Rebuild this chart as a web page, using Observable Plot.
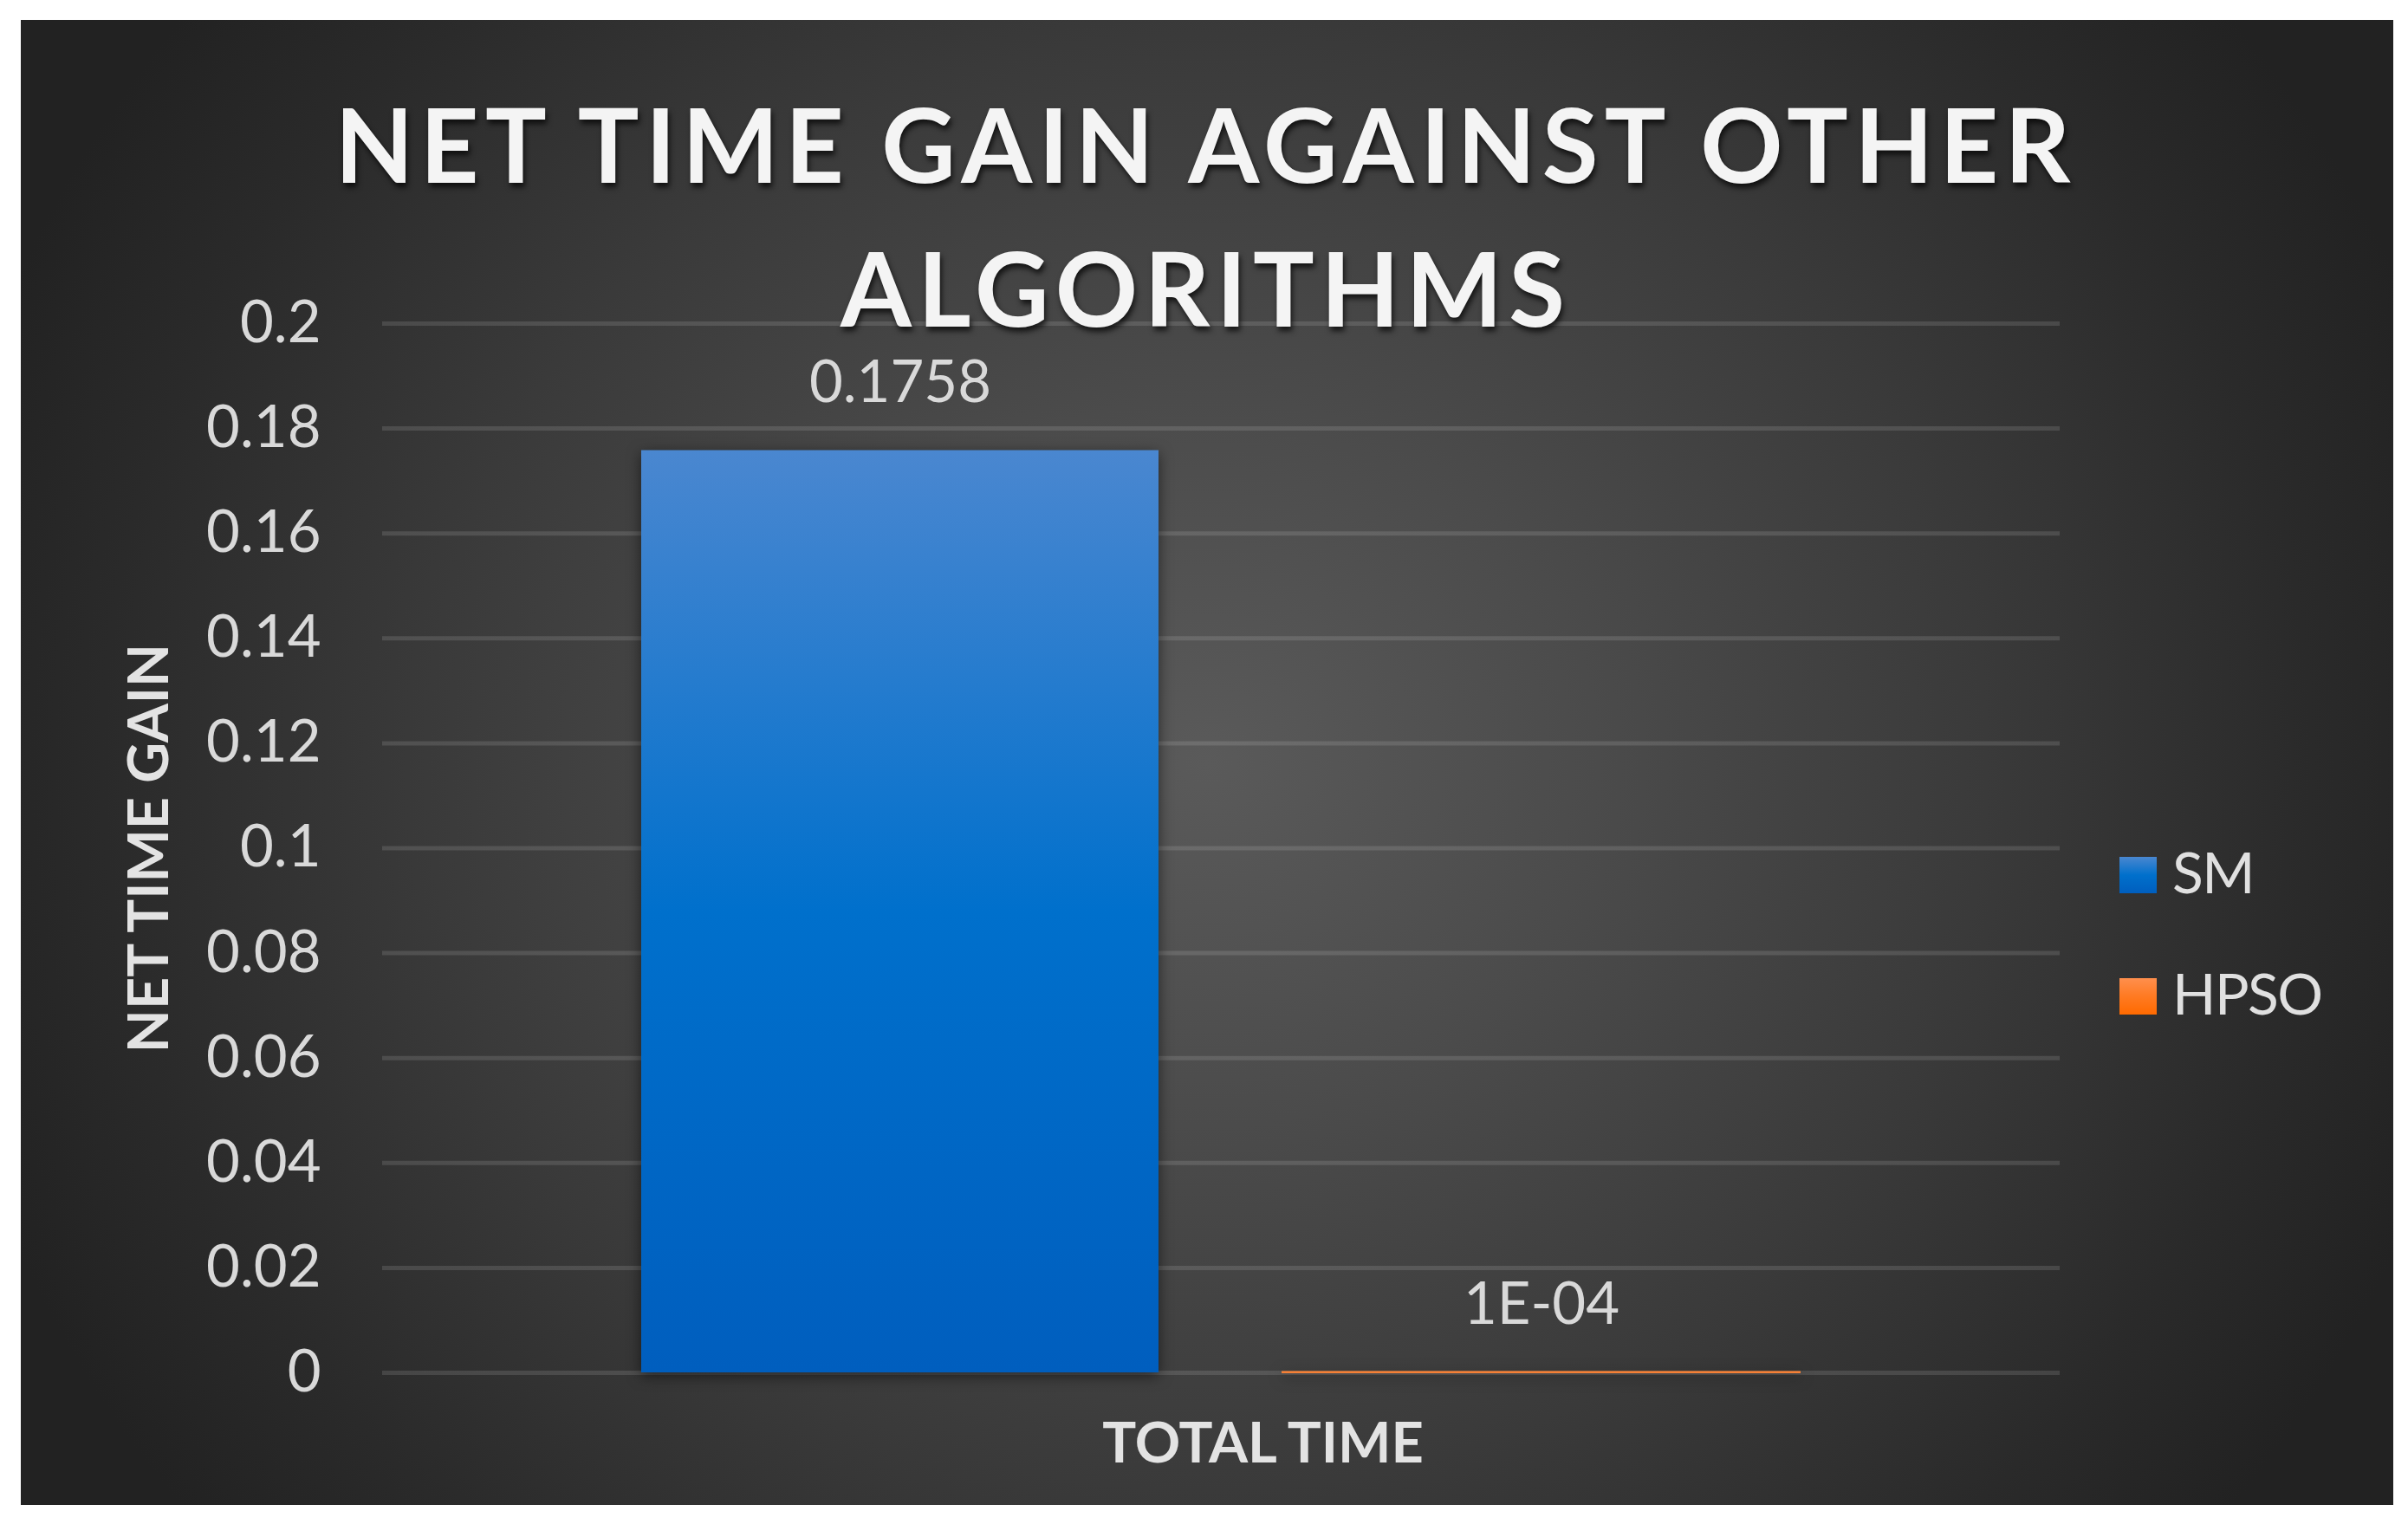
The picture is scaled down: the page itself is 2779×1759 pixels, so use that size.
<!DOCTYPE html>
<html>
<head>
<meta charset="utf-8">
<script src="https://cdn.jsdelivr.net/npm/d3@7"></script>
<script src="https://cdn.jsdelivr.net/npm/@observablehq/plot@0.6"></script>
<style>
  html, body { margin: 0; padding: 0; background: #ffffff; }
  #wrap { position: relative; width: 2779px; height: 1759px; overflow: hidden; background: #ffffff; font-family: Lato, "Open Sans", sans-serif; }
  #panel { position: absolute; left: 24px; top: 23px; width: 2738px; height: 1714px;
    background: radial-gradient(ellipse 1500px 1400px at 1369px 857px, #5a5a5a 0%, #4b4b4b 30%, #3a3a3a 60%, #2a2a2a 85%, #222222 100%); }
  #chart { position: absolute; left: 0; top: 0; }
  .title-line { position: absolute; left: 0; width: 2776px; text-align: center; font-family: Lato, sans-serif; font-weight: 700;
    font-size: 118px; line-height: 166px; color: #f4f4f4; white-space: nowrap;
    text-shadow: 2px 5px 6px rgba(0,0,0,0.7); }
  .legend-item { position: absolute; left: 2446px; height: 67px; }
  .legend-swatch { position: absolute; left: 0; width: 43px; height: 42px; }
  .legend-text { position: absolute; left: 61px; top: 0; font-family: Lato, sans-serif; font-size: 66px; line-height: 67px; letter-spacing: -1.5px; color: #e0e0e0; white-space: nowrap; }
  g[aria-label="bar"] rect { filter: drop-shadow(0px 4px 8px rgba(0,0,0,0.55)); }
</style>
</head>
<body>
<div id="wrap">
  <div id="panel"></div>
  <svg width="0" height="0" style="position:absolute">
    <defs>
      <linearGradient id="grad0" x1="0" y1="0" x2="0" y2="1">
        <stop offset="0" stop-color="#4a87d0"/>
        <stop offset="0.5" stop-color="#0070cc"/>
        <stop offset="1" stop-color="#005ebe"/>
      </linearGradient>
      <linearGradient id="grad1" x1="0" y1="0" x2="0" y2="1">
        <stop offset="0" stop-color="#ff8f4d"/>
        <stop offset="0.5" stop-color="#ff7a22"/>
        <stop offset="1" stop-color="#ff6a00"/>
      </linearGradient>
    </defs>
  </svg>
  <div id="chart"></div>
  <div id="title"></div>
  <div id="legend"></div>
</div>
<script>
// ---- data ----
const titleLines = ["NET TIME GAIN AGAINST OTHER", "ALGORITHMS"];
const categoryLabel = "TOTAL TIME";
const yAxisLabel = "NET TIME GAIN";
const seriesNames = ["SM", "HPSO"];
const seriesValues = [0.1758, 0.0001];
const yTicks = [0, 0.02, 0.04, 0.06, 0.08, 0.1, 0.12, 0.14, 0.16, 0.18, 0.2];

const data = seriesNames.map((s, i) => ({series: s, value: seriesValues[i], category: categoryLabel}));

const gradIds = ["grad0", "grad1"];
const swatchCss = [
  "linear-gradient(#4a87d0, #0070cc 50%, #005ebe)",
  "linear-gradient(#ff8f4d, #ff7a22 50%, #ff6a00)"
];
const thinStroke = ["none", "#f58036"];

function excelGeneral(v) {
  if (Math.abs(v) < 0.001 && v !== 0) {
    const [m, e] = v.toExponential(0).split("e");
    return m + "E" + (e[0] === "-" ? "-" : "+") + String(Math.abs(+e)).padStart(2, "0");
  }
  return String(v);
}

const W = 2779, H = 1759;
const plot = Plot.plot({
  width: W,
  height: H,
  marginLeft: 441,
  marginRight: 402,
  marginTop: 373,
  marginBottom: 175,
  style: {background: "transparent", color: "#d9d9d9", fontFamily: "Lato, 'Open Sans', sans-serif", overflow: "visible"},
  x: {type: "band", domain: seriesNames, paddingInner: 0.193, paddingOuter: 0.404, axis: null},
  y: {domain: [0, 0.2], axis: null},
  marks: [
    Plot.ruleY(yTicks, {stroke: "#ffffff", strokeOpacity: 0.12, strokeWidth: 5}),
    Plot.axisY({ticks: yTicks, tickFormat: d3.format("~g"), tickSize: 0, tickPadding: 71, fontSize: 67, label: null}),
    ...seriesNames.map((s, i) => Plot.barY(data.filter(d => d.series === s), {
      x: "series", y: "value", fill: `url(#${gradIds[i]})`,
      stroke: thinStroke[i], strokeWidth: 2
    })),
    Plot.text(data, {x: "series", y: "value", text: d => excelGeneral(d.value), dy: -56, lineAnchor: "bottom", fontSize: 67, fill: "#d9d9d9"}),
    Plot.text([categoryLabel], {frameAnchor: "bottom", text: d => d, dx: 48, dy: 103, lineAnchor: "bottom", fontSize: 65, fontWeight: "bold", fill: "#e3e3e3"}),
    Plot.text([yAxisLabel], {frameAnchor: "left", text: d => d, rotate: -90, dx: -268, lineAnchor: "middle", textAnchor: "middle", fontSize: 65, fontWeight: "bold", fill: "#e3e3e3"})
  ]
});
document.getElementById("chart").appendChild(plot);

// ---- title ----
const titleDiv = document.getElementById("title");
const targetWidth = 2003; // measured width of first title line in reference
const lines = titleLines.map((t, i) => {
  const div = document.createElement("div");
  div.className = "title-line";
  div.style.top = (83 + i * 166) + "px";
  const span = document.createElement("span");
  span.textContent = t;
  div.appendChild(span);
  titleDiv.appendChild(div);
  return {div, span, t};
});
const w0 = lines[0].span.getBoundingClientRect().width;
const ls = (targetWidth - w0) / (titleLines[0].length - 1);
lines.forEach(({div}) => { div.style.letterSpacing = ls + "px"; div.style.paddingLeft = ls + "px"; div.style.width = (2776 - ls) + "px"; });

// ---- legend ----
const legendDiv = document.getElementById("legend");
const legendTops = [972, 1112];
seriesNames.forEach((s, i) => {
  const item = document.createElement("div");
  item.className = "legend-item";
  item.style.top = legendTops[i] + "px";
  const sw = document.createElement("div");
  sw.className = "legend-swatch";
  sw.style.top = "17px";
  sw.style.background = swatchCss[i];
  const tx = document.createElement("div");
  tx.className = "legend-text";
  tx.textContent = s;
  item.appendChild(sw);
  item.appendChild(tx);
  legendDiv.appendChild(item);
});
</script>
</body>
</html>
